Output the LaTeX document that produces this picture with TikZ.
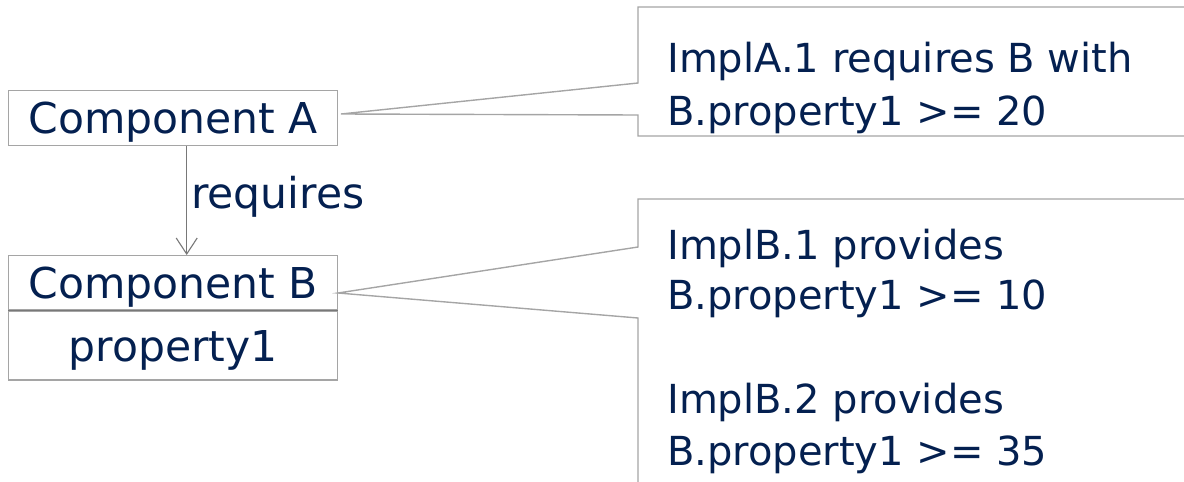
\documentclass[tikz,border=0pt]{standalone}
\usepackage{fontspec}
\setmainfont{DejaVu Sans}
\usetikzlibrary{arrows.meta}
\definecolor{ink}{RGB}{4,32,80}
\definecolor{frame}{RGB}{165,165,165}
\definecolor{wire}{RGB}{120,120,120}
\tikzset{
  bigtxt/.style={text=ink, font=\fontsize{42.5}{52}\selectfont, inner sep=0pt},
  notetxt/.style={text=ink, font=\fontsize{40}{52}\selectfont, inner sep=0pt, anchor=base west},
  compbox/.style={draw=frame, line width=1.4pt, bigtxt, anchor=north west,
    text height=31pt, text depth=0pt, minimum width=329pt},
  callout/.style={draw=frame, line width=1.4pt, line join=miter},
  dep/.style={draw=wire, line width=1.1pt, -{Straight Barb[length=16pt,width=21pt,line width=1.1pt]}}
}
\begin{document}
\begin{tikzpicture}[x=1pt,y=-1pt]
\useasboundingbox (0,0) rectangle (1184,482);

% component boxes
\node[compbox, minimum height=55pt] (A) at (8,90) {Component A};
\node[compbox, minimum height=54pt] (B) at (8,255) {Component B};
\node[compbox, minimum height=69pt] (Bp) at (B.south west) {property1};
\draw[draw=wire, line width=1.2pt] (B.south west) -- (B.south east);

% dependency arrow
\draw[dep] ([xshift=13.5pt]A.south) -- ([xshift=13.5pt]B.north);
\node[bigtxt, anchor=base west] (req) at (191,208) {requires};

% callout for A
\coordinate (tipA) at (341,114);
\draw[callout] (1190,7) -- (638,7) -- (638,83) -- (tipA) -- (638,115) -- (638,136) -- (1190,136);
\node[notetxt] (a1) at (667,72) {ImplA.1 requires B with};
\node[notetxt] (a2) at (667,125) {B.property1 >= 20};

% callout for B
\coordinate (tipB) at (338,293);
\draw[callout] (1190,199) -- (638,199) -- (638,247) -- (tipB) -- (638,318) -- (638,490);
\node[notetxt] (b1) at (667,259) {ImplB.1 provides};
\node[notetxt] (b2) at (667,309) {B.property1 >= 10};
\node[notetxt] (b3) at (667,413) {ImplB.2 provides};
\node[notetxt] (b4) at (667,465) {B.property1 >= 35};
\end{tikzpicture}
\end{document}
